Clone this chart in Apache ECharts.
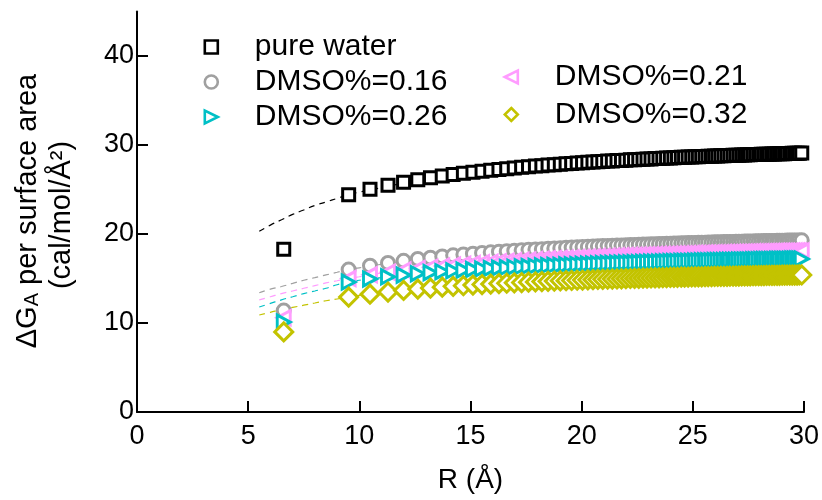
<!DOCTYPE html>
<html>
<head>
<meta charset="utf-8">
<script src="https://cdn.jsdelivr.net/npm/echarts@6/dist/echarts.min.js"></script>
<style>html,body{margin:0;padding:0;background:#fff}#c{width:822px;height:500px}</style>
</head>
<body>
<div id="c"></div>
<script>
const R = [6.60,
 9.52,10.48,11.29,11.99,12.63,13.20,13.73,14.22,14.68,15.11,
 15.52,15.91,16.28,16.63,16.97,17.30,17.61,17.92,18.21,18.49,
 18.77,19.04,19.30,19.55,19.80,20.04,20.28,20.51,20.73,20.95,
 21.17,21.38,21.59,21.79,21.99,22.19,22.38,22.57,22.76,22.94,
 23.12,23.30,23.48,23.65,23.82,23.99,24.15,24.31,24.48,24.63,
 24.79,24.95,25.10,25.25,25.40,25.55,25.69,25.84,25.98,26.12,
 26.26,26.40,26.54,26.67,26.81,26.94,27.07,27.20,27.33,27.46,
 27.58,27.71,27.83,27.96,28.08,28.20,28.32,28.44,28.56,28.67,
 28.79,28.90,29.02,29.13,29.24,29.36,29.47,29.58,29.69,29.79,
 29.90];
const pureWater = [18.3,
 24.40,25.03,25.48,25.82,26.09,26.32,26.51,26.68,26.82,26.94,
 27.06,27.16,27.26,27.34,27.42,27.49,27.56,27.63,27.68,27.74,
 27.79,27.84,27.89,27.93,27.97,28.01,28.05,28.08,28.12,28.16,
 28.19,28.21,28.25,28.27,28.30,28.33,28.35,28.38,28.40,28.42,
 28.44,28.47,28.49,28.51,28.53,28.55,28.57,28.59,28.61,28.62,
 28.64,28.65,28.67,28.69,28.70,28.72,28.73,28.75,28.76,28.77,
 28.78,28.80,28.81,28.82,28.84,28.85,28.86,28.87,28.88,28.90,
 28.90,28.92,28.93,28.93,28.95,28.95,28.97,28.97,28.99,28.99,
 29.01,29.01,29.02,29.03,29.04,29.05,29.06,29.07,29.07,29.08,
 29.09];
const dmso016 = [11.4,
 16.00,16.44,16.75,16.99,17.19,17.34,17.48,17.60,17.70,17.78,
 17.87,17.94,18.01,18.07,18.12,18.17,18.22,18.26,18.30,18.34,
 18.38,18.41,18.45,18.47,18.51,18.53,18.56,18.59,18.61,18.64,
 18.66,18.68,18.70,18.72,18.74,18.76,18.77,18.79,18.81,18.82,
 18.84,18.86,18.87,18.88,18.90,18.91,18.93,18.94,18.95,18.96,
 18.98,18.99,19.00,19.01,19.02,19.03,19.04,19.05,19.06,19.07,
 19.08,19.09,19.10,19.11,19.11,19.12,19.13,19.14,19.15,19.16,
 19.16,19.17,19.18,19.18,19.19,19.20,19.21,19.21,19.22,19.22,
 19.23,19.24,19.24,19.25,19.26,19.26,19.27,19.28,19.28,19.28,
 19.29];
const dmso021 = [10.6,
 15.00,15.42,15.71,15.94,16.12,16.27,16.40,16.51,16.60,16.68,
 16.76,16.83,16.89,16.95,17.00,17.05,17.09,17.13,17.17,17.21,
 17.24,17.28,17.31,17.33,17.36,17.39,17.42,17.44,17.46,17.48,
 17.51,17.52,17.55,17.56,17.58,17.60,17.61,17.63,17.65,17.66,
 17.68,17.69,17.71,17.72,17.73,17.74,17.76,17.77,17.78,17.79,
 17.80,17.81,17.83,17.84,17.84,17.86,17.87,17.87,17.88,17.89,
 17.90,17.91,17.92,17.93,17.94,17.94,17.95,17.96,17.97,17.97,
 17.98,17.99,17.99,18.00,18.01,18.01,18.02,18.03,18.03,18.04,
 18.05,18.05,18.06,18.06,18.07,18.07,18.08,18.09,18.09,18.10,
 18.10];
const dmso026 = [10.1,
 14.60,14.95,15.19,15.38,15.54,15.66,15.77,15.86,15.94,16.01,
 16.07,16.13,16.18,16.23,16.27,16.31,16.35,16.38,16.42,16.45,
 16.48,16.50,16.53,16.55,16.58,16.60,16.62,16.64,16.66,16.68,
 16.70,16.71,16.73,16.74,16.76,16.77,16.79,16.80,16.82,16.83,
 16.84,16.85,16.86,16.87,16.89,16.90,16.91,16.92,16.93,16.94,
 16.95,16.95,16.97,16.97,16.98,16.99,17.00,17.00,17.01,17.02,
 17.03,17.03,17.04,17.05,17.06,17.06,17.07,17.07,17.08,17.09,
 17.09,17.10,17.11,17.11,17.12,17.12,17.13,17.13,17.14,17.14,
 17.15,17.15,17.16,17.16,17.17,17.17,17.18,17.18,17.19,17.19,
 17.20];
const dmso032 = [9.0,
 12.91,13.24,13.48,13.66,13.81,13.92,14.03,14.12,14.19,14.26,
 14.32,14.37,14.43,14.47,14.51,14.55,14.59,14.62,14.65,14.68,
 14.71,14.74,14.76,14.78,14.81,14.83,14.85,14.87,14.89,14.91,
 14.92,14.94,14.95,14.97,14.98,15.00,15.01,15.02,15.04,15.05,
 15.06,15.07,15.08,15.09,15.10,15.12,15.13,15.14,15.15,15.15,
 15.16,15.17,15.18,15.19,15.19,15.21,15.21,15.22,15.23,15.23,
 15.24,15.25,15.25,15.26,15.27,15.28,15.28,15.29,15.29,15.30,
 15.30,15.31,15.32,15.32,15.33,15.33,15.34,15.34,15.35,15.35,
 15.36,15.36,15.37,15.37,15.38,15.38,15.39,15.39,15.39,15.40,
 15.40];

const fitR       = [5.5, 6, 6.5, 7, 7.5, 8, 8.5, 9, 9.5, 10, 11, 12, 14, 16, 18, 20, 22, 24, 26, 28, 30];
const fitPure    = [20.3,21.0,21.6,22.2,22.7,23.2,23.6,24.0,24.4,24.7,25.2,25.7,26.5,27.1,27.6,28.0,28.3,28.6,28.8,29.0,29.1];
const fit016     = [13.4,13.8,14.1,14.45,14.8,15.1,15.4,15.7,16.0,16.2,16.6,17.0,17.6,18.0,18.3,18.5,18.7,18.9,19.1,19.2,19.3];
const fit021     = [12.6,12.95,13.3,13.6,13.9,14.2,14.5,14.75,15.0,15.2,15.6,15.9,16.5,16.9,17.2,17.4,17.6,17.8,17.9,18.0,18.1];
const fit026     = [11.8,12.2,12.6,12.95,13.3,13.6,13.9,14.3,14.6,14.8,15.1,15.4,15.8,16.2,16.5,16.7,16.85,17.0,17.1,17.2,17.2];
const fit032     = [10.9,11.2,11.5,11.75,12.0,12.25,12.5,12.7,12.9,13.1,13.4,13.7,14.1,14.4,14.7,14.9,15.0,15.15,15.25,15.35,15.4];

const names = ['pure water','DMSO%=0.16','DMSO%=0.21','DMSO%=0.26','DMSO%=0.32'];
const colors = ['#000000','#a0a0a0','#ff9cff','#00c0c6','#c3c300'];
const yVals = [pureWater, dmso016, dmso021, dmso026, dmso032];
const fitVals = [fitPure, fit016, fit021, fit026, fit032];
const TRI_LEFT = 'path://M0,5L10,0L10,10Z';
const TRI_RIGHT = 'path://M10,5L0,0L0,10Z';
const symbols = ['rect', 'circle', TRI_LEFT, TRI_RIGHT, 'diamond'];
const sizes = [12, 13, [13, 14], [13, 14], 18];
const legendIcons = ['rect', 'circle', TRI_LEFT, TRI_RIGHT, 'diamond'];
const xTickValues = [0, 5, 10, 15, 20, 25, 30];
const yTickValues = [0, 10, 20, 30, 40];

const FONT = 'Liberation Sans, Arial, sans-serif';
const chart = echarts.init(document.getElementById('c'), null, {renderer: 'canvas'});

const series = [];
fitVals.forEach((v, i) => {
  series.push({
    type: 'line', name: 'fit ' + names[i], z: 1, silent: true, smooth: true,
    symbol: 'none', data: fitR.map((r, j) => [r, v[j]]),
    lineStyle: {color: colors[i], width: 1.2, type: [6, 5]}
  });
});
yVals.forEach((v, i) => {
  series.push({
    type: 'scatter', name: names[i], z: 2,
    symbol: symbols[i], symbolSize: sizes[i], symbolKeepAspect: false,
    data: R.map((r, j) => [r, v[j]]),
    itemStyle: {color: '#ffffff', borderColor: colors[i], borderWidth: 3, opacity: 1}
  });
});

const legendCommon = {
  orient: 'vertical', itemWidth: 13, itemHeight: 13,
  formatter: n => '{t|' + n + '}',
  itemStyle: {borderWidth: 2.6},
  textStyle: {fontFamily: FONT, fontSize: 30, color: '#000', lineHeight: 30,
    rich: {t: {fontFamily: FONT, fontSize: 30, color: '#000', lineHeight: 30, padding: [0, 0, 0, 32]}}},
  selectedMode: false, padding: 0
};
const legendItem = i => ({name: names[i], icon: legendIcons[i]});

chart.setOption({
  animation: false,
  backgroundColor: '#fff',
  grid: {left: 137, right: 17, top: 11.5, bottom: 88, containLabel: false},
  legend: [
    Object.assign({}, legendCommon, {left: 203.5, top: 32, itemGap: 5, data: [legendItem(0), legendItem(1), legendItem(3)]}),
    Object.assign({}, legendCommon, {left: 503.5, top: 62, itemGap: 7.5, data: [legendItem(2), legendItem(4)]})
  ],
  xAxis: {
    type: 'value', min: 0, max: 30, interval: 5,
    name: 'R (Å)', nameLocation: 'middle', nameGap: 54,
    nameTextStyle: {fontFamily: FONT, fontSize: 28, color: '#000'},
    axisLine: {lineStyle: {color: '#000', width: 2}},
    axisTick: {inside: true, length: 11, lineStyle: {color: '#000', width: 2}, customValues: xTickValues},
    axisLabel: {fontFamily: FONT, fontSize: 27, color: '#000', margin: 11, customValues: xTickValues},
    splitLine: {show: false}
  },
  yAxis: {
    type: 'value', min: 0, max: 45, interval: 10,
    axisLine: {lineStyle: {color: '#000', width: 2}},
    axisTick: {inside: true, length: 11, lineStyle: {color: '#000', width: 2}, customValues: yTickValues},
    axisLabel: {fontFamily: FONT, fontSize: 27, color: '#000', margin: 3, customValues: yTickValues},
    splitLine: {show: false}
  },
  graphic: [
    {type: 'text', x: 26, y: 211, rotation: Math.PI / 2, silent: true,
     style: {text: '{a|ΔG}{s|A}{a| per surface area}', align: 'center', verticalAlign: 'middle',
       rich: {a: {fontFamily: FONT, fontSize: 29, color: '#000', lineHeight: 32, verticalAlign: 'bottom'},
              s: {fontFamily: FONT, fontSize: 20, color: '#000', lineHeight: 24, verticalAlign: 'bottom'}}}},
    {type: 'text', x: 62, y: 215, rotation: Math.PI / 2, silent: true,
     style: {text: '(cal/mol/Å²)', align: 'center', verticalAlign: 'middle',
       fontFamily: FONT, fontSize: 29, fill: '#000'}}
  ],
  series: series
});
</script>
</body>
</html>
